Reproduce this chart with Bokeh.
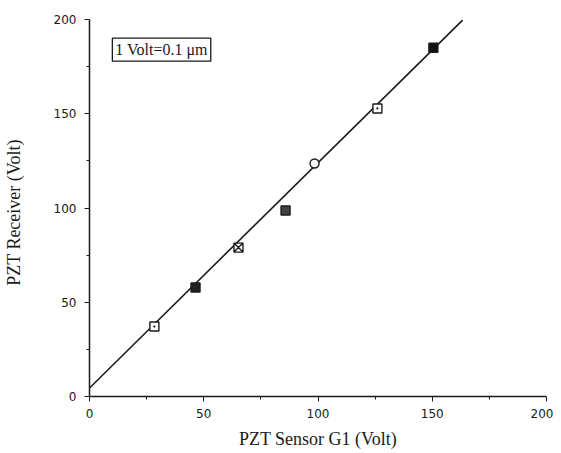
from bokeh.plotting import figure
from bokeh.models import Range1d, FixedTicker, Label
from bokeh.embed import file_html
from bokeh.resources import INLINE

# data
sensor_g1 = [28.4, 46.4, 65.2, 85.8, 98.5, 126.0, 150.5]
receiver = [37.1, 57.8, 79.0, 98.7, 123.6, 152.8, 185.0]
marker_kind = ["square_dot", "square", "square_x", "square", "circle", "square_dot", "square"]
marker_fill = ["white", "#222222", "white", "#444444", "white", "white", "#111111"]
fit_x = [0, 163.3]
fit_y = [4.5, 199.7]
x_ticks = [0, 50, 100, 150, 200]
y_ticks = [0, 50, 100, 150, 200]
minor_ticks = [25, 75, 125, 175]
note_text = "1 Volt=0.1 μm"

p = figure(width=553, height=452, output_backend="svg", toolbar_location=None,
           x_range=Range1d(0, 200), y_range=Range1d(0, 200),
           min_border_left=89, min_border_right=7, min_border_top=19, min_border_bottom=56)
p.outline_line_color = None
p.grid.visible = False
p.background_fill_color = "white"

p.line(fit_x, fit_y, line_color="#1a1a1a", line_width=1.6)
for xi, yi, mk, fc in zip(sensor_g1, receiver, marker_kind, marker_fill):
    p.scatter([xi], [yi], marker=mk, size=9, fill_color=fc, line_color="#1a1a1a", line_width=1.4)

for ax, ticks in ((p.xaxis, x_ticks), (p.yaxis, y_ticks)):
    ax.ticker = FixedTicker(ticks=ticks, minor_ticks=minor_ticks)
    ax.axis_line_color = "#1a1a1a"
    ax.axis_line_width = 1.5
    ax.major_tick_line_color = "#1a1a1a"
    ax.minor_tick_line_color = "#1a1a1a"
    ax.major_tick_out = 5
    ax.major_tick_in = 0
    ax.minor_tick_out = 3
    ax.minor_tick_in = 0
    ax.major_label_text_font = "DejaVu Sans"
    ax.major_label_text_font_size = "12px"
    ax.major_label_text_color = "#1a1a1a"
    ax.axis_label_text_font = "Liberation Serif"
    ax.axis_label_text_font_size = "18px"
    ax.axis_label_text_font_style = "normal"
    ax.axis_label_text_color = "#1a1a1a"

p.xaxis.axis_label = "PZT Sensor G1 (Volt)"
p.yaxis.axis_label = "PZT Receiver   (Volt)"
p.xaxis.major_label_standoff = 7
p.yaxis.major_label_standoff = 8
p.xaxis.axis_label_standoff = 8
p.yaxis.axis_label_standoff = 27

p.add_layout(Label(x=10, y=184, text=note_text, text_font="Liberation Serif",
                   text_font_size="16px", text_color="#1a1a1a",
                   border_line_color="#1a1a1a", border_line_width=1.3,
                   background_fill_color="white", padding=3, text_baseline="middle"))

open("out.html", "w").write(file_html(p, INLINE))
